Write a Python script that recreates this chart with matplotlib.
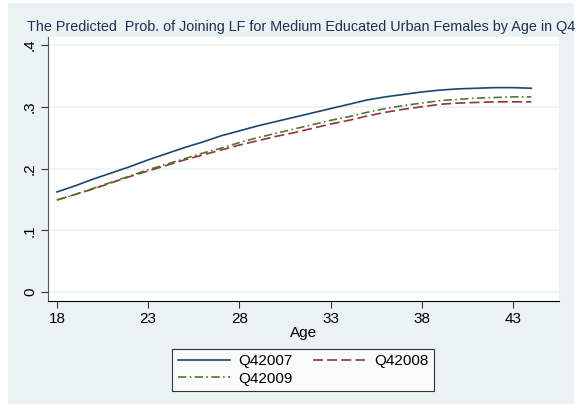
import matplotlib.pyplot as plt
from matplotlib.patches import Rectangle

plt.rcParams['font.family'] = ['Liberation Sans', 'DejaVu Sans']

# predicted probabilities by age, one series per quarter
ages = list(range(18, 45))
q42007 = [0.162, 0.172, 0.183, 0.193, 0.203, 0.214, 0.224, 0.234, 0.243, 0.253,
          0.261, 0.269, 0.276, 0.283, 0.290, 0.297, 0.304, 0.311, 0.316, 0.320,
          0.324, 0.327, 0.329, 0.330, 0.331, 0.331, 0.330]
q42008 = [0.149, 0.158, 0.167, 0.177, 0.187, 0.196, 0.205, 0.214, 0.222, 0.230,
          0.238, 0.245, 0.252, 0.258, 0.265, 0.272, 0.278, 0.285, 0.291, 0.296,
          0.300, 0.304, 0.306, 0.307, 0.308, 0.308, 0.308]
q42009 = [0.149, 0.158, 0.168, 0.178, 0.188, 0.198, 0.207, 0.216, 0.225, 0.233,
          0.242, 0.250, 0.257, 0.264, 0.271, 0.278, 0.284, 0.291, 0.297, 0.302,
          0.306, 0.310, 0.312, 0.314, 0.315, 0.316, 0.316]

xticks = [18, 23, 28, 33, 38, 43]
yticks = [0, 0.1, 0.2, 0.3, 0.4]
ytick_labels = ['0', '.1', '.2', '.3', '.4']

navy = '#1a476f'
maroon = '#90353b'
green = '#55752f'
bg = '#eaf2f3'

W, H = 583, 411
fig = plt.figure(figsize=(W / 100, H / 100), dpi=100)
fig.patch.set_facecolor('white')
fig.patches.append(Rectangle((8 / W, 1 - 404 / H), 566 / W, 401 / H,
                             transform=fig.transFigure, facecolor=bg,
                             edgecolor='none', zorder=-10))

ax = fig.add_axes([48 / W, 1 - 301 / H, 511 / W, 264 / H])
ax.set_facecolor('white')

l07, = ax.plot(ages, q42007, color=navy, lw=1.2, label='Q42007')
l08, = ax.plot(ages, q42008, color=maroon, lw=1.2, ls=(0, (6, 2.5)), label='Q42008')
l09, = ax.plot(ages, q42009, color=green, lw=1.2, ls=(0, (5, 2, 1, 2)), label='Q42009')

ax.set_xlim(17.51, 45.52)
ax.set_ylim(-0.0146, 0.413)
ax.set_xticks(xticks)
ax.set_xticklabels([str(t) for t in xticks], fontsize=11)
ax.set_yticks(yticks)
ax.set_yticklabels(ytick_labels, fontsize=11, rotation=90, va='center')
ax.tick_params(axis='both', direction='out', length=5, width=0.8, color='#333333')
ax.tick_params(axis='x', pad=3)
ax.tick_params(axis='y', pad=3)
ax.grid(axis='y', color=bg, lw=1.2)
ax.set_axisbelow(True)

for side in ('top', 'right'):
    ax.spines[side].set_visible(False)
ax.spines['left'].set_color('#555555')
ax.spines['bottom'].set_color('black')

ax.set_xlabel('Age', fontsize=11, labelpad=0)

fig.text(27 / W, 1 - 27 / H,
         'The Predicted  Prob. of Joining LF for Medium Educated Urban Females by Age in Q4',
         fontsize=10.35, color='#1e2f55', ha='left', va='center')

# legend filled row by row: Q42007, Q42008 / Q42009
leg = fig.legend([l07, l09, l08], ['Q42007', 'Q42009', 'Q42008'],
                 loc='center', bbox_to_anchor=(303 / W, 1 - 370 / H), ncol=2,
                 fontsize=11, frameon=True, fancybox=False, handlelength=3.4,
                 columnspacing=1.3, handletextpad=0.6, borderpad=0.35,
                 labelspacing=0.2, borderaxespad=0)
leg.get_frame().set_edgecolor('black')
leg.get_frame().set_linewidth(0.8)

fig.savefig('out.png', dpi=100)
